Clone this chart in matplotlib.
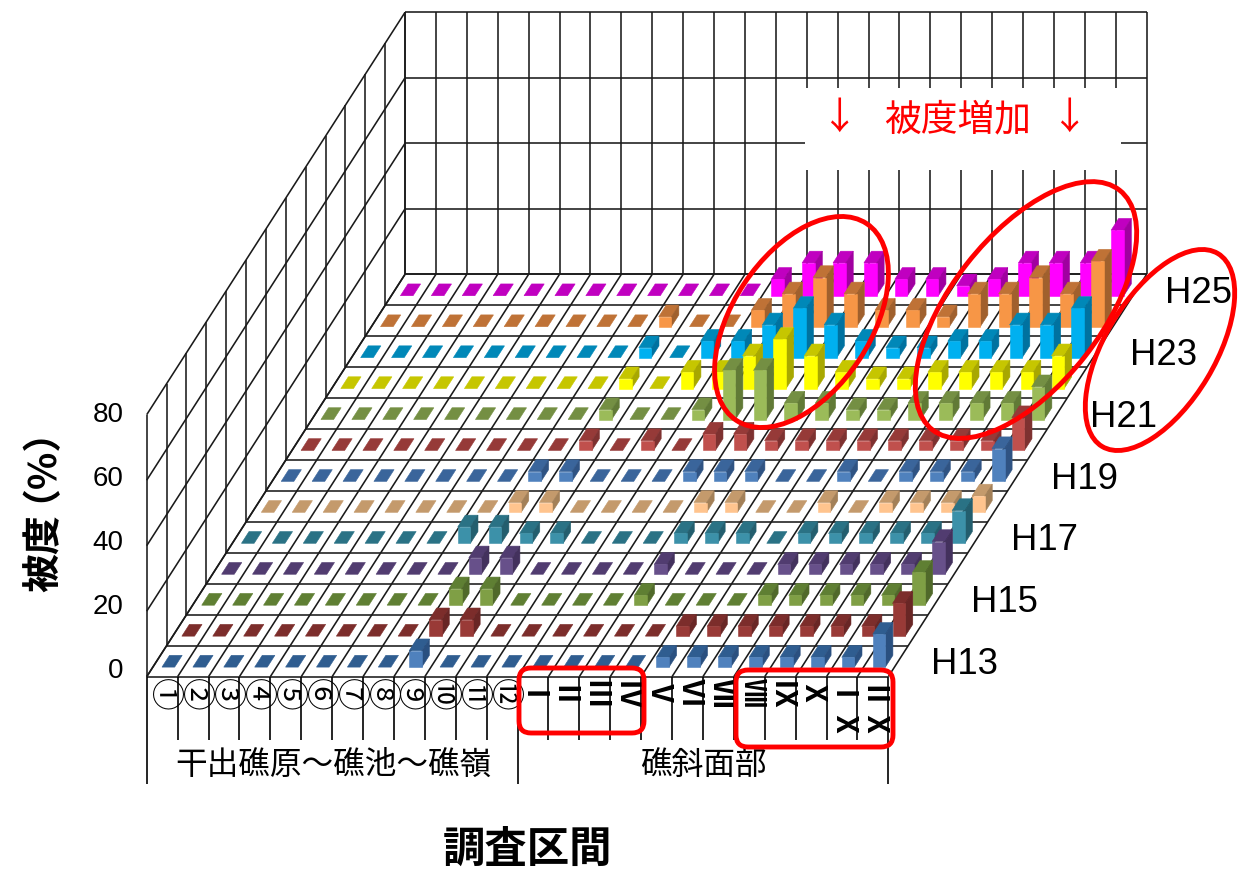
import matplotlib
matplotlib.use("Agg")
from matplotlib import pyplot as plt
from matplotlib.font_manager import FontProperties, findfont, get_font
from matplotlib.patches import Ellipse, FancyBboxPatch, Polygon, Rectangle

plt.rcParams['font.family'] = ['Noto Sans CJK JP', 'DejaVu Sans']
LATIN = 'Liberation Sans'

# survey sections along the reef
sections = ['①', '②', '③', '④', '⑤', '⑥', '⑦', '⑧', '⑨', '⑩', '⑪', '⑫',
            'Ⅰ', 'Ⅱ', 'Ⅲ', 'Ⅳ', 'Ⅴ', 'Ⅵ', 'Ⅶ', 'Ⅷ', 'Ⅸ', 'Ⅹ', 'Ⅰ\nⅩ', 'Ⅱ\nⅩ']
years = ['H13', 'H14', 'H15', 'H16', 'H17', 'H18', 'H19', 'H20', 'H21', 'H22', 'H23', 'H24', 'H25']
year_labels = ['H13', 'H15', 'H17', 'H19', 'H21', 'H23', 'H25']
yticks = [0, 20, 40, 60, 80]

# coverage per year, one value per section
h13 = [0, 0, 0, 0, 0, 0, 0, 0, 5, 0, 0, 0, 0, 0, 0, 0, 3, 3, 3, 3, 3, 3, 3, 10]
h14 = [0, 0, 0, 0, 0, 0, 0, 0, 5, 5, 0, 0, 0, 0, 0, 0, 3, 3, 3, 3, 3, 3, 3, 10]
h15 = [0, 0, 0, 0, 0, 0, 0, 0, 5, 5, 0, 0, 0, 0, 3, 0, 0, 0, 3, 3, 3, 3, 3, 10]
h16 = [0, 0, 0, 0, 0, 0, 0, 0, 5, 5, 0, 0, 0, 0, 3, 0, 0, 0, 3, 3, 3, 3, 3, 10]
h17 = [0, 0, 0, 0, 0, 0, 0, 5, 5, 3, 3, 0, 0, 0, 3, 3, 3, 0, 3, 3, 3, 3, 3, 10]
h18 = [0, 0, 0, 0, 0, 0, 0, 0, 3, 3, 0, 0, 0, 0, 3, 3, 0, 0, 3, 0, 3, 3, 3, 5]
h19 = [0, 0, 0, 0, 0, 0, 0, 0, 3, 3, 0, 0, 0, 3, 3, 3, 0, 0, 3, 0, 3, 3, 3, 10]
h20 = [0, 0, 0, 0, 0, 0, 0, 0, 0, 3, 0, 3, 0, 5, 5, 3, 3, 3, 3, 3, 3, 3, 3, 10]
h21 = [0, 0, 0, 0, 0, 0, 0, 0, 0, 3, 0, 0, 3, 15, 15, 5, 5, 3, 3, 5, 5, 5, 5, 10]
h22 = [0, 0, 0, 0, 0, 0, 0, 0, 0, 3, 0, 5, 5, 10, 15, 10, 5, 3, 3, 5, 5, 5, 5, 10]
h23 = [0, 0, 0, 0, 0, 0, 0, 0, 0, 3, 0, 5, 5, 10, 15, 10, 5, 3, 3, 5, 5, 10, 10, 15]
h24 = [0, 0, 0, 0, 0, 0, 0, 0, 0, 3, 0, 0, 5, 10, 15, 10, 5, 5, 3, 10, 10, 15, 10, 20]
h25 = [0, 0, 0, 0, 0, 0, 0, 0, 0, 0, 0, 0, 5, 10, 10, 10, 5, 5, 3, 5, 10, 10, 10, 20]
coverage = [h13, h14, h15, h16, h17, h18, h19, h20, h21, h22, h23, h24, h25]

# front, top and side shade for each year
front = ['#4F81BD', '#993A37', '#7F9F45', '#67508A', '#3C91A9', '#FFC48E',
         '#4F81BD', '#C0504D', '#9BBB59', '#FFFF00', '#00B0F0', '#F79646', '#FF00FF']
top = ['#2F5D90', '#7C2D2B', '#5F7F33', '#513C70', '#2A7285', '#C49A6C',
       '#3A659B', '#963A38', '#748F43', '#C6C600', '#0088B8', '#BF7236', '#C000C0']
side = ['#2A5080', '#692625', '#50692A', '#43315D', '#235E6E', '#A38058',
        '#2F5383', '#7E3130', '#617A36', '#A8A800', '#0072A0', '#A0602D', '#A000A0']

# oblique projection of the floor, in output pixels
LEFT = 146.7
FLOOR_Y = 676.7
COL_W = 30.9
ROW_DX = 19.87
ROW_DY = 30.95
PX_PER_UNIT = 3.275
BAR_X = (0.295, 0.705)
BAR_D = (0.31, 0.69)
ncol = len(sections)
nrow = len(years)
ymax = yticks[-1]


def project(col, row, value=0.0):
    return (LEFT + col * COL_W + row * ROW_DX,
            FLOOR_Y - row * ROW_DY - value * PX_PER_UNIT)


def draw_line(ax, a, b, lw=1.15, color='#1A1A1A', z=1):
    ax.plot([a[0], b[0]], [a[1], b[1]], color=color, lw=lw, zorder=z, solid_capstyle='butt')


def draw_bar(ax, col, row, value, z):
    x0, x1 = col + BAR_X[0], col + BAR_X[1]
    d0, d1 = row + BAR_D[0], row + BAR_D[1]
    top_face = [project(x0, d0, value), project(x1, d0, value),
                project(x1, d1, value), project(x0, d1, value)]
    ax.add_patch(Polygon(top_face, closed=True, fc=top[row], ec=top[row], lw=0.4, zorder=z))
    if value <= 0:
        return
    side_face = [project(x1, d0, 0), project(x1, d1, 0),
                 project(x1, d1, value), project(x1, d0, value)]
    front_face = [project(x0, d0, 0), project(x1, d0, 0),
                  project(x1, d0, value), project(x0, d0, value)]
    ax.add_patch(Polygon(side_face, closed=True, fc=side[row], ec=side[row], lw=0.4, zorder=z))
    ax.add_patch(Polygon(front_face, closed=True, fc=front[row], ec=front[row], lw=0.4, zorder=z))


def left_bearing(text, size, weight):
    # Agg shifts rotated text sideways by the first glyph's bearing, so it has to be undone
    font = get_font(findfont(FontProperties(family='Noto Sans CJK JP', weight=weight)))
    font.set_size(size, 100)
    font.set_text(text, 0.0)
    return font.get_bitmap_offset()[0] / 64


def turned_text(ax, xc, yc, text, size, rotation, weight='normal', **kw):
    # full-width glyphs, placed from the pen start so the em box stays centred on (xc, yc)
    em = size * 100 / 72
    n = len(text)
    xo = left_bearing(text, size, weight)
    if rotation == 270:
        ax.text(xc - 0.38 * em - xo, yc - n * em / 2 + xo, text, rotation=270, rotation_mode='anchor',
                ha='left', va='baseline', fontsize=size, fontweight=weight, color='black', **kw)
    else:
        ax.text(xc + 0.38 * em - xo, yc + n * em / 2 - xo, text, rotation=90, rotation_mode='anchor',
                ha='left', va='baseline', fontsize=size, fontweight=weight, color='black', **kw)


fig = plt.figure(figsize=(12.4, 8.69), dpi=100)
ax = fig.add_axes([0, 0, 1, 1])
ax.set_xlim(0, 1240)
ax.set_ylim(869, 0)
ax.axis('off')

# walls and floor grid
for tick in yticks:
    draw_line(ax, project(0, 0, tick), project(0, nrow, tick))
    draw_line(ax, project(0, nrow, tick), project(ncol, nrow, tick))
for row in range(nrow + 1):
    draw_line(ax, project(0, row), project(0, row, ymax))
    draw_line(ax, project(0, row), project(ncol, row))
for col in range(ncol + 1):
    draw_line(ax, project(col, nrow), project(col, nrow, ymax))
    draw_line(ax, project(col, 0), project(col, nrow))

# white note box hides the back wall behind the caption
ax.add_patch(Rectangle((805, 88), 316, 82, fc='white', ec='none', zorder=2))

# back rows first so nearer bars overlap them
z = 3
for row in range(nrow - 1, -1, -1):
    for col in range(ncol):
        draw_bar(ax, col, row, coverage[row][col], z)
        z += 0.001

# section axis below the floor
for col in range(ncol + 1):
    x, y = project(col, 0)
    end = 784 if col in (0, 12, 24) else 740
    draw_line(ax, (x, y), (x, end), lw=1.2, color='black')

for col, label in enumerate(sections):
    x = project(col + 0.5, 0)[0] + 5.5
    for i, part in enumerate(label.split('\n')):
        if col < 12:
            turned_text(ax, x, 693, part, 23.5, 270, zorder=6)
        else:
            turned_text(ax, x, 692 + i * 31, part, 21, 270, weight='bold', zorder=6)

ax.text(333, 765, '干出礁原～礁池～礁嶺', ha='center', va='center', fontsize=22.8, color='black')
ax.text(703, 765, '礁斜面部', ha='center', va='center', fontsize=22.8, color='black')

# value axis, labels sit a little tighter than the wall gridlines
for tick in yticks:
    ax.text(123.5, 671 - tick * 3.2, str(tick), ha='right', va='center',
            fontsize=20, family=LATIN, color='black')

# year labels along the right edge
label_nudge = [0, 0, 0, 0, 0, 0, -5]
for label, row, nudge in zip(year_labels, range(0, nrow, 2), label_nudge):
    x, y = project(ncol, row)
    ax.text(x + 43 + nudge, y - 12, label, ha='left', va='center', fontsize=26.3, family=LATIN,
            color='black', zorder=6)

turned_text(ax, 42, 554, '被度', 28, 90, weight='bold')
turned_text(ax, 42, 469, '（%）', 28, 90, weight='bold')
ax.text(527, 862, '調査区間', ha='center', va='baseline', fontsize=30.5, fontweight='bold', color='black')

# caption and highlights
ax.text(958, 120, '被度増加', ha='center', va='center', fontsize=26.5, color='#FF0000', zorder=7)
ax.text(840, 118, '↓', ha='center', va='center', fontsize=27, color='#FF0000', zorder=7)
ax.text(1070, 118, '↓', ha='center', va='center', fontsize=27, color='#FF0000', zorder=7)

for center, w, h, angle in [((801.5, 322), 236, 138, -56.5),
                            ((1026, 310), 304, 150, -52),
                            ((1160, 350), 225, 110, -59)]:
    ax.add_patch(Ellipse(center, w, h, angle=angle, fc='none', ec='#FF0000', lw=3.5, zorder=8))

for x0, y0, w, h in [(519, 668, 125, 65), (736, 670, 157, 77)]:
    ax.add_patch(FancyBboxPatch((x0 + 12, y0 + 12), w - 24, h - 24,
                                boxstyle='round,pad=12,rounding_size=12',
                                fc='none', ec='#FF0000', lw=3.5, zorder=8))

fig.savefig('out.png', dpi=100, facecolor='white')
